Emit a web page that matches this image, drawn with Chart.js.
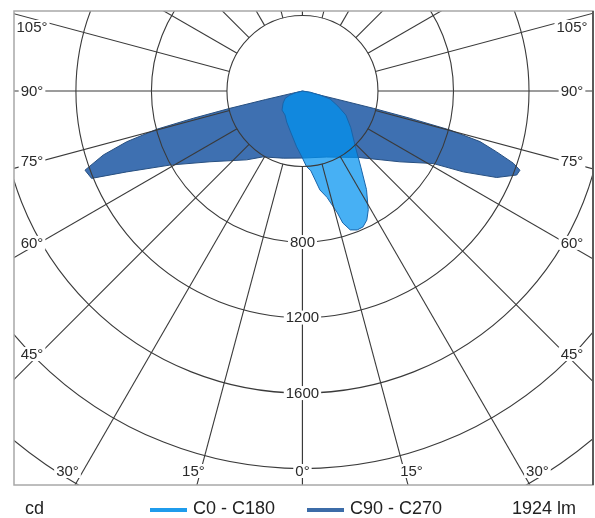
<!DOCTYPE html>
<html><head><meta charset="utf-8">
<script src="https://cdn.jsdelivr.net/npm/chart.js@4.4.0/dist/chart.umd.min.js"></script>
<style>html,body{margin:0;padding:0;background:#fff;}canvas{display:block;}</style>
</head><body>
<canvas id="c" width="595" height="518"></canvas>
<script>
// ---- data (gamma in degrees from nadir, intensity in cd) ----
const C0_GAMMA   = [0, 3, 6, 10, 13, 16, 17, 19, 21.5, 24, 26.5, 29, 33, 37.5, 43, 53, 61, 67, 74, 77, 82, 90];
const C0_CD      = [355, 400, 425, 532, 578, 672, 731, 778, 791, 788, 764, 719, 623, 508, 414, 320, 263, 204, 152, 95, 40, 0];
const C180_GAMMA = [0, 6, 18, 27, 36, 47, 58, 67, 72, 76, 90];
const C180_CD    = [355, 297, 217, 184, 157, 148, 121, 100, 72, 40, 0];
const C90_GAMMA  = [0, 20, 30, 40, 54, 61, 63.3, 66, 68.6, 70, 71.1, 72.6, 74.1, 75.2, 75.8, 76.3, 76.6, 77.5, 80, 90];
const C90_CD     = [355, 372, 405, 459, 638, 792, 953, 1126, 1219, 1226, 1181, 1078, 978, 808, 587, 386, 204, 50, 0, 0];
const C270_GAMMA = [0, 16, 31, 39, 52.6, 60.8, 65.3, 67.5, 70, 72.2, 73.9, 75.3, 76, 76.6, 77, 77.5, 80, 90];
const C270_CD    = [355, 370, 407, 469, 617, 804, 1025, 1209, 1226, 1108, 969, 798, 596, 395, 200, 60, 0, 0];

const RING_VALUES  = [400, 800, 1200, 1600, 2000, 2400];
const RING_LABELS  = [800, 1200, 1600];
const ANGLE_LINES  = [0, 15, 30, 45, 60, 75, 90, 105, 120, 135, 150, 165, 180];
const ANGLE_LABELS = [0, 15, 30, 45, 60, 75, 90, 105];
const SERIES_NAMES = ['C0 - C180', 'C90 - C270'];
const UNIT_TEXT = 'cd';
const FLUX_TEXT = '1924 lm';

// axis extents (cd)
const X_MIN = -1528, X_MAX = 1539, Y_MIN = -2087, Y_MAX = 424;

const RAD = Math.PI / 180;
function polar(gs, cds, side) {
  return gs.map((g, i) => ({ x: side * cds[i] * Math.sin(g * RAD), y: -cds[i] * Math.cos(g * RAD) }));
}
function closedShape(rightG, rightI, leftG, leftI) {
  const r = polar(rightG, rightI, 1);
  const l = polar(leftG, leftI, -1).reverse();
  const pts = r.concat([{ x: 0, y: 0 }], l);
  pts.push({ x: pts[0].x, y: pts[0].y });
  return pts;
}
const lightPts = closedShape(C0_GAMMA, C0_CD, C180_GAMMA, C180_CD);
const darkPts  = closedShape(C90_GAMMA, C90_CD, C270_GAMMA, C270_CD);

const LIGHT_LEGEND = '#1f9cec';
const DARK_LEGEND  = '#3c6ca8';
const FONT = '"Liberation Sans", Arial, Helvetica, sans-serif';

function labelBox(ctx, text, x, y) {
  const w = ctx.measureText(text).width;
  ctx.fillStyle = '#fff';
  ctx.fillRect(x - w / 2 - 2, y - 7, w + 4, 14);
  ctx.fillStyle = '#2a2a2a';
  ctx.fillText(text, x, y + 0.5);
}

const gridPlugin = {
  id: 'polarGrid',
  afterDatasetsDraw(chart) {
    const ctx = chart.ctx, xs = chart.scales.x, ys = chart.scales.y, a = chart.chartArea;
    const P = (x, y) => [xs.getPixelForValue(x), ys.getPixelForValue(y)];
    const [cx, cy] = P(0, 0);
    ctx.save();
    ctx.beginPath();
    ctx.rect(a.left, a.top, a.right - a.left, a.bottom - a.top);
    ctx.clip();
    ctx.strokeStyle = '#3a3a3a';
    ctx.lineWidth = 1.1;
    RING_VALUES.forEach(v => {
      const r = xs.getPixelForValue(v) - cx;
      ctx.beginPath(); ctx.arc(cx, cy, r, 0, 2 * Math.PI); ctx.stroke();
    });
    const r0 = RING_VALUES[0];
    ANGLE_LINES.forEach(g => {
      [1, -1].forEach(s => {
        const [x1, y1] = P(s * r0 * Math.sin(g * RAD), -r0 * Math.cos(g * RAD));
        const [x2, y2] = P(s * 5000 * Math.sin(g * RAD), -5000 * Math.cos(g * RAD));
        ctx.beginPath(); ctx.moveTo(x1, y1); ctx.lineTo(x2, y2); ctx.stroke();
      });
    });
    ctx.font = '15px ' + FONT;
    ctx.textAlign = 'center';
    ctx.textBaseline = 'middle';
    RING_LABELS.forEach(v => {
      const [lx, ly] = P(0, -v);
      labelBox(ctx, String(v), lx, ly);
    });
    ANGLE_LABELS.forEach(g => {
      const sides = g === 0 ? [1] : [-1, 1];
      sides.forEach(s => {
        let x, y;
        if (g <= 30) {
          x = cx + s * 407 * Math.tan(g * RAD);
          y = a.bottom - 14;
        } else {
          y = Math.max(cy + 263 / Math.tan(g * RAD), a.top + 16);
          x = s < 0 ? a.left + 18 : a.right - 21;
        }
        labelBox(ctx, g + '°', x, y);
      });
    });
    ctx.restore();
    // frame
    ctx.save();
    ctx.strokeStyle = '#a8a8a8';
    ctx.lineWidth = 1.5;
    ctx.strokeRect(a.left, a.top, a.right - a.left, a.bottom - a.top);
    ctx.strokeStyle = '#5a5a5a';
    ctx.lineWidth = 2;
    ctx.beginPath(); ctx.moveTo(a.right, a.top); ctx.lineTo(a.right, a.bottom); ctx.stroke();
    ctx.restore();
  },
  afterDraw(chart) {
    const ctx = chart.ctx, a = chart.chartArea;
    const y = a.bottom + 24;
    ctx.save();
    ctx.font = '18px ' + FONT;
    ctx.textBaseline = 'middle';
    ctx.textAlign = 'left';
    ctx.fillStyle = '#222';
    ctx.fillText(UNIT_TEXT, 25, y);
    const items = [
      { x: 150, color: LIGHT_LEGEND, text: SERIES_NAMES[0] },
      { x: 307, color: DARK_LEGEND, text: SERIES_NAMES[1] }
    ];
    items.forEach(it => {
      ctx.strokeStyle = it.color; ctx.lineWidth = 4;
      ctx.beginPath(); ctx.moveTo(it.x, y + 1); ctx.lineTo(it.x + 37, y + 1); ctx.stroke();
      ctx.fillStyle = '#222';
      ctx.fillText(it.text, it.x + 43, y);
    });
    ctx.fillText(FLUX_TEXT, 512, y);
    ctx.restore();
  }
};

new Chart(document.getElementById('c'), {
  type: 'scatter',
  data: {
    datasets: [
      { label: SERIES_NAMES[0], data: lightPts, showLine: true, fill: 'shape', tension: 0,
        backgroundColor: 'rgba(0,145,240,0.72)', borderColor: '#1a64a8', borderWidth: 1,
        pointRadius: 0, order: 0 },
      { label: SERIES_NAMES[1], data: darkPts, showLine: true, fill: 'shape', tension: 0,
        backgroundColor: '#3e70b1', borderColor: '#274f80', borderWidth: 1,
        pointRadius: 0, order: 1 }
    ]
  },
  options: {
    responsive: false,
    animation: false,
    layout: { padding: { left: 14, top: 11, right: 2, bottom: 33 } },
    scales: {
      x: { type: 'linear', min: X_MIN, max: X_MAX, display: false },
      y: { type: 'linear', min: Y_MIN, max: Y_MAX, display: false }
    },
    plugins: { legend: { display: false }, tooltip: { enabled: false } }
  },
  plugins: [gridPlugin]
});
</script>
</body></html>
